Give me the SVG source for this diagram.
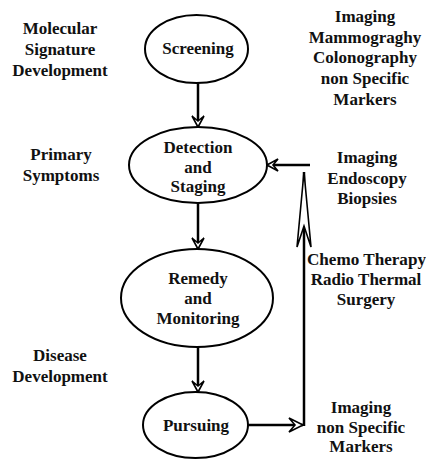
<svg xmlns="http://www.w3.org/2000/svg" width="426" height="459" viewBox="0 0 426 459">
<style>
text{font-family:"Liberation Serif","Times New Roman",serif;font-weight:bold;font-size:17px;fill:#111;text-anchor:middle}
.node ellipse{fill:#fff;stroke:#000;stroke-width:2}
.conn path{fill:none;stroke:#000;stroke-width:2.5}
.head{fill:#fff;stroke:#000;stroke-width:1.6;stroke-linejoin:miter}
</style>
<defs>
<marker id="arrow" markerUnits="userSpaceOnUse" viewBox="-14 -8 16 16" refX="0" refY="0" markerWidth="16" markerHeight="16" orient="auto" overflow="visible">
<path class="head" d="M0,0 L-11,-6 L-6,0 L-11,6 Z"/>
</marker>
<marker id="arrowL" markerUnits="userSpaceOnUse" viewBox="-18 -9 20 18" refX="0" refY="0" markerWidth="20" markerHeight="18" orient="auto" overflow="visible">
<path class="head" d="M0,0 L-14,-7 L-8,0 L-14,7 Z"/>
</marker>
<marker id="arrowLong" markerUnits="userSpaceOnUse" viewBox="-78 -9 80 18" refX="0" refY="0" markerWidth="80" markerHeight="18" orient="auto" overflow="visible">
<path class="head" d="M0,0 L-75,-7 L-54,0 L-75,7 Z"/>
</marker>
</defs>
<rect width="426" height="459" fill="#fff"/>

<g id="labels-left">
<text x="60" y="34">Molecular</text>
<text x="60" y="55">Signature</text>
<text x="60" y="76">Development</text>
<text x="61" y="160">Primary</text>
<text x="61" y="181">Symptoms</text>
<text x="60" y="361">Disease</text>
<text x="60" y="382">Development</text>
</g>

<g id="labels-right">
<text x="365" y="22">Imaging</text>
<text x="365" y="42.5">Mammograghy</text>
<text x="365" y="63">Colonography</text>
<text x="365" y="84">non Specific</text>
<text x="365" y="104.5">Markers</text>
<text x="367" y="163">Imaging</text>
<text x="367" y="184">Endoscopy</text>
<text x="367" y="204">Biopsies</text>
<text x="366.5" y="265" textLength="119" lengthAdjust="spacingAndGlyphs">Chemo Therapy</text>
<text x="366" y="285">Radio Thermal</text>
<text x="366" y="305">Surgery</text>
<text x="361" y="413">Imaging</text>
<text x="361" y="433">non Specific</text>
<text x="361" y="452">Markers</text>
</g>

<g id="connectors" class="conn">
<path d="M198,83 L198,127" marker-end="url(#arrow)"/>
<path d="M198,203 L198,249" marker-end="url(#arrow)"/>
<path d="M198,347 L198,392" marker-end="url(#arrow)"/>
<path d="M248,425 L303,425" marker-end="url(#arrowL)"/>
<path d="M304,426 L304,172" marker-end="url(#arrowLong)"/>
<path d="M310,165 L267,165" marker-end="url(#arrow)"/>
</g>

<g id="screening" class="node">
<ellipse cx="196.5" cy="49" rx="51.5" ry="34"/>
<text x="198" y="54">Screening</text>
</g>
<g id="detection" class="node">
<ellipse cx="198" cy="165" rx="69" ry="38"/>
<text x="198" y="152.5">Detection</text>
<text x="198" y="172.5">and</text>
<text x="198" y="192">Staging</text>
</g>
<g id="remedy" class="node">
<ellipse cx="197" cy="298" rx="76" ry="49"/>
<text x="198" y="283.5">Remedy</text>
<text x="198" y="303.5">and</text>
<text x="198" y="323.5">Monitoring</text>
</g>
<g id="pursuing" class="node">
<ellipse cx="195.5" cy="425" rx="52.5" ry="33"/>
<text x="196" y="431">Pursuing</text>
</g>
</svg>
